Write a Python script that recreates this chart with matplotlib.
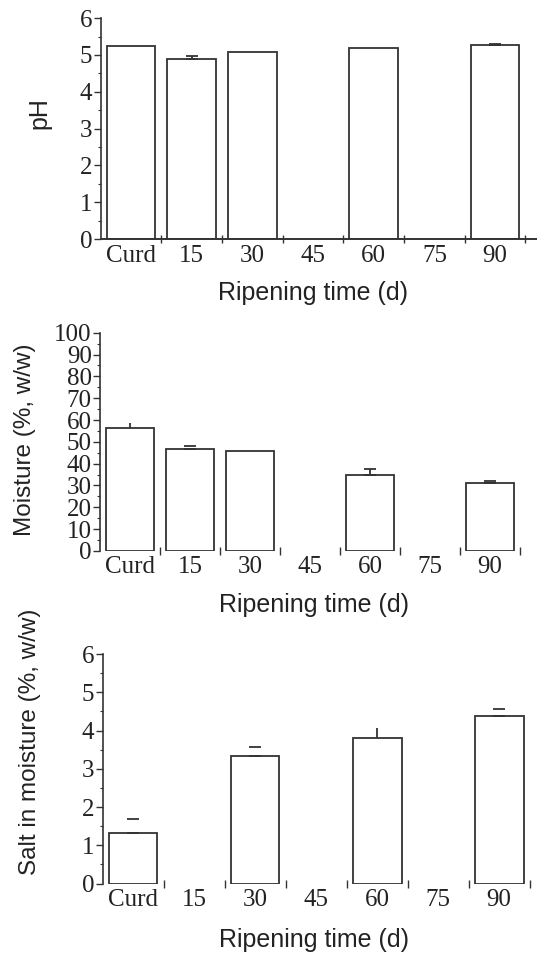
import numpy as np
import matplotlib
matplotlib.use("Agg")
import matplotlib.pyplot as plt
from matplotlib.ticker import MultipleLocator, FixedLocator, NullFormatter

categories = ["Curd", "15", "30", "45", "60", "75", "90"]

ph_values = [5.24, 4.90, 5.07, np.nan, 5.20, np.nan, 5.28]
ph_err = [0.0, 0.07, 0.0, np.nan, 0.0, np.nan, 0.03]
ph_err_style = ["none", "both", "none", "none", "none", "none", "cap"]

moist_values = [56.5, 46.5, 45.9, np.nan, 34.8, np.nan, 31.0]
moist_err = [2.0, 1.8, 0.0, np.nan, 2.8, np.nan, 1.2]
moist_err_style = ["stem", "cap", "none", "none", "both", "none", "cap"]

salt_values = [1.31, np.nan, 3.34, np.nan, 3.81, np.nan, 4.38]
salt_err = [0.39, np.nan, 0.24, np.nan, 0.26, np.nan, 0.19]
salt_err_style = ["cap", "none", "cap", "none", "stem", "none", "cap"]

EDGE = "#333333"
SERIF = ["Liberation Serif", "DejaVu Serif"]
SANS = ["Liberation Sans", "DejaVu Sans"]

fig = plt.figure(figsize=(5.37, 9.56), dpi=100)

panels = [
    dict(rect=[0.1873, 0.750, 0.8127, 0.231], xmax=6.69, ylim=(0, 6), major=1, minor=0.5,
         values=ph_values, err=ph_err, style=ph_err_style, ylabel="pH",
         ylab=(-0.139, 0.570), xlab=(0.487, -0.244), spine=True),
    dict(rect=[0.1862, 0.4238, 0.8138, 0.2281], xmax=6.78, ylim=(0, 100), major=10, minor=5,
         values=moist_values, err=moist_err, style=moist_err_style, ylabel="Moisture (%, w/w)",
         ylab=(-0.172, 0.508), xlab=(0.49, -0.247), spine=False),
    dict(rect=[0.1909, 0.0758, 0.8091, 0.240], xmax=6.62, ylim=(0, 6), major=1, minor=0.5,
         values=salt_values, err=salt_err, style=salt_err_style, ylabel="Salt in moisture (%, w/w)",
         ylab=(-0.167, 0.617), xlab=(0.487, -0.245), spine=False),
]

x = np.arange(len(categories))

for p in panels:
    ax = fig.add_axes(p["rect"])
    vals = np.array(p["values"], dtype=float)
    ok = ~np.isnan(vals)
    ax.bar(x[ok], vals[ok], width=0.8, color="white", edgecolor=EDGE,
           linewidth=1.3, zorder=2)
    for i, (v, e, s) in enumerate(zip(vals, p["err"], p["style"])):
        if np.isnan(v) or s == "none":
            continue
        if s == "cap":
            ax.errorbar(x[i], v, yerr=[[0], [e]], fmt="none", ecolor=EDGE,
                        elinewidth=0, capsize=4.5, capthick=1.3, zorder=3)
        elif s == "stem":
            ax.errorbar(x[i], v, yerr=[[0], [e]], fmt="none", ecolor=EDGE,
                        elinewidth=1.3, capsize=0, zorder=3)
        else:
            ax.errorbar(x[i], v, yerr=[[0], [e]], fmt="none", ecolor=EDGE,
                        elinewidth=1.3, capsize=4.5, capthick=1.3, zorder=3)
    ax.set_xlim(-0.5, p["xmax"])
    ax.set_ylim(*p["ylim"])
    for side in ["top", "right"]:
        ax.spines[side].set_visible(False)
    ax.spines["left"].set_color(EDGE)
    ax.spines["left"].set_linewidth(1.2)
    if p["spine"]:
        ax.spines["bottom"].set_color(EDGE)
        ax.spines["bottom"].set_linewidth(1.4)
    else:
        ax.spines["bottom"].set_visible(False)

    ax.xaxis.set_major_locator(FixedLocator(x + 0.5))
    ax.xaxis.set_major_formatter(NullFormatter())
    ax.xaxis.set_minor_locator(FixedLocator(x))
    ax.set_xticklabels(categories, minor=True)
    ax.tick_params(axis="x", which="major", direction="inout", length=6, width=1.0,
                   color=EDGE)
    ax.tick_params(axis="x", which="minor", length=0, pad=4, labelsize=18,
                   labelcolor="#222222")
    for t in ax.get_xticklabels(minor=True):
        t.set_fontfamily(SERIF)

    ax.yaxis.set_major_locator(MultipleLocator(p["major"]))
    ax.yaxis.set_minor_locator(MultipleLocator(p["minor"]))
    ax.tick_params(axis="y", which="major", direction="out", length=5, width=1.0,
                   color=EDGE, labelsize=18, labelcolor="#222222", pad=1)
    ax.tick_params(axis="y", which="minor", direction="out", length=2.5, width=0.8,
                   color=EDGE)
    for t in ax.get_yticklabels():
        t.set_fontfamily(SERIF)

    ax.set_xlabel("Ripening time (d)", fontsize=18, fontfamily=SANS, color="#222222",
                  va="center")
    ax.xaxis.set_label_coords(*p["xlab"])
    ax.set_ylabel(p["ylabel"], fontsize=17.5 if p["ylabel"] != "pH" else 18,
                  fontfamily=SANS, color="#222222", va="center")
    ax.yaxis.set_label_coords(*p["ylab"])

fig.savefig("out.png", dpi=100)
